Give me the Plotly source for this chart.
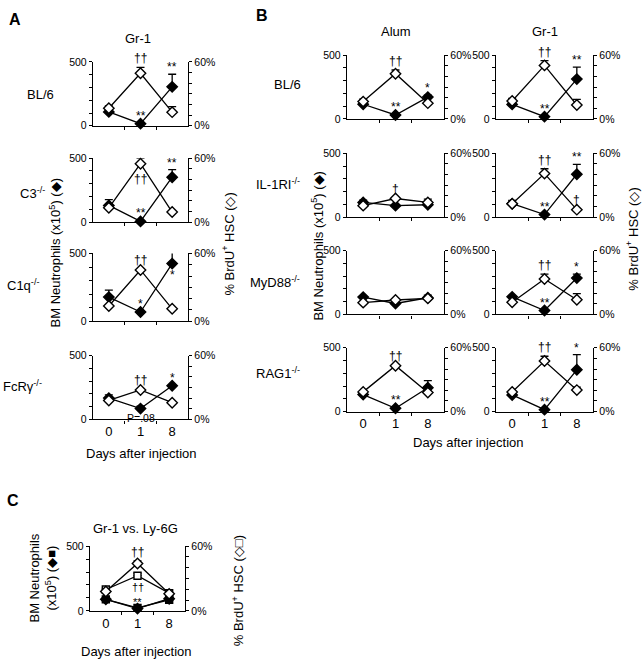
import plotly.graph_objects as go

W, H = 642, 666
FONT = "Liberation Sans, Arial, sans-serif"

days = ["0", "1", "8"]

# ---------------- data (neutrophils x10^5 on left axis, % BrdU+ HSC on right axis)
# Panel A : Gr-1
A_BL6_neu = [109, 17, 305];   A_BL6_neu_err = [0, 0, 99]
A_BL6_hsc = [16.5, 49.4, 12.8]; A_BL6_hsc_err = [2.3, 5.5, 5.2]
A_C3_neu = [130, 5, 351];     A_C3_neu_err = [45, 0, 60]
A_C3_hsc = [13.4, 54.8, 9.4]; A_C3_hsc_err = [0, 5.2, 0]
A_C1q_neu = [178, 68, 425];   A_C1q_neu_err = [52, 0, 117]
A_C1q_hsc = [13.5, 45.4, 11.0]; A_C1q_hsc_err = [0, 0, 0]
A_FcR_neu = [167, 85, 264];   A_FcR_neu_err = [25, 18, 0]
A_FcR_hsc = [17.8, 27.7, 15.7]; A_FcR_hsc_err = [0, 0, 0]

# Panel B : Alum and Gr-1
B_Alum_BL6_neu = [115, 31, 171]; B_Alum_BL6_neu_err = [39, 0, 16]
B_Alum_BL6_hsc = [16.3, 42.5, 14.8]; B_Alum_BL6_hsc_err = [0, 3.5, 0]
B_Gr1_BL6_neu = [114, 18, 312]; B_Gr1_BL6_neu_err = [0, 0, 94]
B_Gr1_BL6_hsc = [16.8, 50.3, 13.1]; B_Gr1_BL6_hsc_err = [2.4, 4.5, 5.2]
B_Alum_IL1_neu = [115, 90, 97]; B_Alum_IL1_neu_err = [18, 0, 0]
B_Alum_IL1_hsc = [10.8, 17.5, 13.8]; B_Alum_IL1_hsc_err = [0, 0, 3.1]
B_Gr1_IL1_neu = [105, 20, 336]; B_Gr1_IL1_neu_err = [26, 0, 77]
B_Gr1_IL1_hsc = [12.5, 40.9, 7.0]; B_Gr1_IL1_hsc_err = [0, 4.6, 0]
B_Alum_MyD_neu = [135, 85, 130]; B_Alum_MyD_neu_err = [0, 0, 0]
B_Alum_MyD_hsc = [11.0, 13.5, 15.0]; B_Alum_MyD_hsc_err = [0, 0, 3.0]
B_Gr1_MyD_neu = [137, 30, 284]; B_Gr1_MyD_neu_err = [0, 0, 31]
B_Gr1_MyD_hsc = [11.3, 33.2, 13.7]; B_Gr1_MyD_hsc_err = [0, 4.6, 5.8]
B_Alum_RAG_neu = [133, 26, 186]; B_Alum_RAG_neu_err = [0, 0, 56]
B_Alum_RAG_hsc = [18.5, 43.1, 17.8]; B_Alum_RAG_hsc_err = [0, 0, 0]
B_Gr1_RAG_neu = [130, 15, 327]; B_Gr1_RAG_neu_err = [0, 0, 119]
B_Gr1_RAG_hsc = [18.4, 47.5, 20.2]; B_Gr1_RAG_hsc_err = [0, 4.5, 2.8]

# Panel C : Gr-1 vs Ly-6G
C_Gr1_neu = [89, 18, 94]
C_Ly6G_neu = [89, 23, 86]
C_Gr1_hsc = [18.0, 43.9, 15.8]; C_Gr1_hsc_err = [0, 2.4, 0]
C_Ly6G_hsc = [19.8, 32.6, 16.4]; C_Ly6G_hsc_err = [1.2, 2.4, 0]

left_ticks = [0, 500]
left_text = ["0", "500"]
left_minor = [100, 200, 300, 400]
right_ticks = [0, 60]
right_text = ["0%", "60%"]
right_minor = [10, 20, 30, 40, 50]

# significance marks: (day index, series, text, where)
marks = {
    "A_BL6": [(1, "o", "††", "up"), (2, "f", "**", "up"), (1, "f", "**", "up")],
    "A_C3": [(1, "o", "††", "down2"), (2, "f", "**", "up"), (1, "f", "**", "up")],
    "A_C1q": [(1, "o", "††", "up"), (1, "f", "*", "up"), (2, "f", "*", "down")],
    "A_FcR": [(1, "o", "††", "up"), (2, "f", "*", "up"), (1, "f", "P=.08", "down")],
    "B_Alum_BL6": [(1, "o", "††", "up"), (1, "f", "**", "up"), (2, "f", "*", "up")],
    "B_Gr1_BL6": [(1, "o", "††", "up"), (1, "f", "**", "up"), (2, "f", "**", "up")],
    "B_Alum_IL1": [(1, "o", "†", "up")],
    "B_Gr1_IL1": [(1, "o", "††", "up"), (1, "f", "**", "up"), (2, "f", "**", "up"), (2, "o", "†", "up")],
    "B_Alum_MyD": [],
    "B_Gr1_MyD": [(1, "o", "††", "up"), (1, "f", "**", "up"), (2, "f", "*", "up")],
    "B_Alum_RAG": [(1, "o", "††", "up"), (1, "f", "**", "up")],
    "B_Gr1_RAG": [(1, "o", "††", "up"), (1, "f", "**", "up"), (2, "f", "*", "up")],
}

fig = go.Figure()
layout = {}
annotations = []


def px(x):
    return x / W


def py(y):
    return 1 - y / H


def ids(n):
    xa = "x" if n == 1 else f"x{n}"
    yl = "y" if 2 * n - 1 == 1 else f"y{2 * n - 1}"
    yr = f"y{2 * n}"
    return xa, yl, yr


def key(a):
    return a[0] + "axis" + a[1:]


def minor_ticks(vals):
    return dict(tickmode="array", tickvals=vals, ticks="outside", ticklen=3,
                tickcolor="black", tickwidth=1.2, showgrid=False)


def add_axes(n, x0, x1, y0, y1, show_x_labels):
    xa, yl, yr = ids(n)
    layout[key(xa)] = dict(
        domain=[px(x0), px(x1)], range=[-0.5, 2.5], anchor=yl,
        showline=True, linecolor="black", linewidth=1.4, showgrid=False, zeroline=False,
        tickmode="array", tickvals=[0, 1, 2], ticktext=days,
        showticklabels=show_x_labels,
        ticks="", tickfont=dict(family=FONT, size=13, color="black"),
        minor=minor_ticks([0.5, 1.5]),
        fixedrange=True,
    )
    layout[key(yl)] = dict(
        domain=[py(y1), py(y0)], range=[0, 500], anchor=xa,
        showline=True, linecolor="black", linewidth=1.4, showgrid=False, zeroline=False,
        tickmode="array", tickvals=left_ticks, ticktext=left_text,
        ticks="outside", ticklen=3, tickwidth=1.2, tickcolor="black",
        minor=minor_ticks(left_minor),
        tickfont=dict(family=FONT, size=10.5, color="black"),
    )
    layout[key(yr)] = dict(
        overlaying=yl, side="right", range=[0, 60], anchor=xa,
        showline=True, linecolor="black", linewidth=1.4, showgrid=False, zeroline=False,
        tickmode="array", tickvals=right_ticks, ticktext=right_text,
        ticks="outside", ticklen=3, tickwidth=1.2, tickcolor="black",
        minor=minor_ticks(right_minor),
        tickfont=dict(family=FONT, size=10.5, color="black"),
    )


def series(n, vals, errs, right, filled, symbol="diamond"):
    xa, yl, yr = ids(n)
    eb = None
    if errs is not None and any(e > 0 for e in errs):
        eb = dict(type="data", symmetric=False, array=errs, arrayminus=[0] * len(errs),
                  color="black", thickness=1.3, width=4)
    fig.add_trace(go.Scatter(
        x=[0, 1, 2], y=vals, xaxis=xa, yaxis=yr if right else yl,
        mode="lines+markers", line=dict(color="black", width=1.3),
        marker=dict(symbol=symbol, size=8 if symbol == "diamond" else 7,
                    color="black" if filled else "white",
                    line=dict(color="black", width=1.4)),
        error_y=eb, showlegend=False, hoverinfo="skip", cliponaxis=False,
    ))


def add_marks(n, mlist, neu, neu_err, hsc, hsc_err, down2=-15, up_nerr=10, size=12):
    xa, yl, yr = ids(n)
    for d, s, t, where in mlist:
        if s == "f":
            v, e, ya = neu[d], neu_err[d], yl
        else:
            v, e, ya = hsc[d], hsc_err[d], yr
        if where == "up":
            yv = v + e
            shift = 9 if e > 0 else up_nerr
        elif where == "down":
            yv = v
            shift = -9
        else:
            yv = v
            shift = down2
        if t.startswith("*"):
            shift -= 2
        annotations.append(dict(
            x=d, y=yv, xref=xa, yref=ya, text=t, showarrow=False, yshift=shift,
            font=dict(family=FONT, size=size if t != "P=.08" else 10.5, color="#000000"),
        ))


panels = [
    # name, x0, x1, y0, y1, show x labels, neu, neu_err, hsc, hsc_err
    ("A_BL6", 93, 188, 57, 122, False, A_BL6_neu, A_BL6_neu_err, A_BL6_hsc, A_BL6_hsc_err),
    ("A_C3", 93, 188, 155, 220, False, A_C3_neu, A_C3_neu_err, A_C3_hsc, A_C3_hsc_err),
    ("A_C1q", 93, 188, 252, 321, False, A_C1q_neu, A_C1q_neu_err, A_C1q_hsc, A_C1q_hsc_err),
    ("A_FcR", 93, 188, 356, 421, True, A_FcR_neu, A_FcR_neu_err, A_FcR_hsc, A_FcR_hsc_err),
    ("B_Alum_BL6", 347, 444, 50, 115, False, B_Alum_BL6_neu, B_Alum_BL6_neu_err, B_Alum_BL6_hsc, B_Alum_BL6_hsc_err),
    ("B_Gr1_BL6", 496, 593, 50, 115, False, B_Gr1_BL6_neu, B_Gr1_BL6_neu_err, B_Gr1_BL6_hsc, B_Gr1_BL6_hsc_err),
    ("B_Alum_IL1", 347, 444, 150, 215, False, B_Alum_IL1_neu, B_Alum_IL1_neu_err, B_Alum_IL1_hsc, B_Alum_IL1_hsc_err),
    ("B_Gr1_IL1", 496, 593, 150, 215, False, B_Gr1_IL1_neu, B_Gr1_IL1_neu_err, B_Gr1_IL1_hsc, B_Gr1_IL1_hsc_err),
    ("B_Alum_MyD", 347, 444, 249, 314, False, B_Alum_MyD_neu, B_Alum_MyD_neu_err, B_Alum_MyD_hsc, B_Alum_MyD_hsc_err),
    ("B_Gr1_MyD", 496, 593, 249, 314, False, B_Gr1_MyD_neu, B_Gr1_MyD_neu_err, B_Gr1_MyD_hsc, B_Gr1_MyD_hsc_err),
    ("B_Alum_RAG", 347, 444, 348, 413, True, B_Alum_RAG_neu, B_Alum_RAG_neu_err, B_Alum_RAG_hsc, B_Alum_RAG_hsc_err),
    ("B_Gr1_RAG", 496, 593, 348, 413, True, B_Gr1_RAG_neu, B_Gr1_RAG_neu_err, B_Gr1_RAG_hsc, B_Gr1_RAG_hsc_err),
]

n = 0
for name, x0, x1, y0, y1, showx, neu, neu_err, hsc, hsc_err in panels:
    n += 1
    add_axes(n, x0, x1, y0, y1, showx)
    series(n, neu, neu_err, False, True)
    series(n, hsc, hsc_err, True, False)
    add_marks(n, marks[name], neu, neu_err, hsc, hsc_err)

# Panel C
n += 1
add_axes(n, 90, 185, 550, 616, True)
series(n, C_Ly6G_neu, None, False, True, symbol="square")
series(n, C_Gr1_neu, None, False, True)
series(n, C_Ly6G_hsc, C_Ly6G_hsc_err, True, False, symbol="square")
series(n, C_Gr1_hsc, C_Gr1_hsc_err, True, False)
zero = [0, 0, 0]
add_marks(n, [(1, "o", "††", "up")], C_Gr1_neu, zero, C_Gr1_hsc, C_Gr1_hsc_err)
add_marks(n, [(1, "o", "††", "down2")], C_Ly6G_neu, zero, C_Ly6G_hsc, zero, down2=-11, size=11)
add_marks(n, [(1, "f", "**", "up")], C_Ly6G_neu, zero, C_Ly6G_hsc, zero, up_nerr=8, size=11)


def text(x, y, t, size=13, angle=0, bold=False, xanchor="center"):
    annotations.append(dict(
        x=px(x), y=py(y), xref="paper", yref="paper", text=f"<b>{t}</b>" if bold else t,
        showarrow=False, textangle=angle, xanchor=xanchor, yanchor="middle",
        font=dict(family=FONT, size=size, color="black"),
    ))


# panel letters and column titles
text(15, 14, "A", 16, bold=True)
text(262, 10, "B", 16, bold=True)
text(13, 504, "C", 16, bold=True)
text(138, 33, "Gr-1", 13)
text(396, 26, "Alum", 13)
text(545, 26, "Gr-1", 13)
text(135, 532, "Gr-1 vs. Ly-6G", 13)

# row labels
text(40, 90, "BL/6", 13)
text(32, 190, "C3<sup>-/-</sup>", 13)
text(23, 284, "C1q<sup>-/-</sup>", 13)
text(23, 387, "FcRγ<sup>-/-</sup>", 13)
text(287, 80, "BL/6", 13)
text(278, 181, "IL-1RI<sup>-/-</sup>", 13)
text(275, 281, "MyD88<sup>-/-</sup>", 13)
text(278, 374, "RAG1<sup>-/-</sup>", 13)

# axis titles
text(55, 252, "BM Neutrophils (x10<sup>5</sup>) (◆)", 13, angle=-90)
text(228, 243, "% BrdU<sup>+</sup> HSC (◇)", 13, angle=-90)
text(317, 245, "BM Neutrophils (x10<sup>5</sup>) (◆)", 13, angle=-90)
text(632, 238, "% BrdU<sup>+</sup> HSC (◇)", 13, angle=-90)
text(43, 582, "BM Neutrophils<br>(x10<sup>5</sup>) (◆■)", 13, angle=-90)
text(238, 596, "% BrdU<sup>+</sup> HSC (◇□)", 13, angle=-90)
text(141, 456, "Days after injection", 13)
text(468, 445, "Days after injection", 13)
text(136, 657, "Days after injection", 13)

fig.update_layout(
    width=W, height=H, margin=dict(l=0, r=0, t=0, b=0),
    paper_bgcolor="white", plot_bgcolor="rgba(0,0,0,0)",
    annotations=annotations, showlegend=False,
    font=dict(family=FONT, color="black"),
    **layout,
)

fig.write_html(
    "out.html",
    config={"displayModeBar": False},
    post_script="document.body.style.margin='0px';document.body.style.overflow='hidden';",
)
